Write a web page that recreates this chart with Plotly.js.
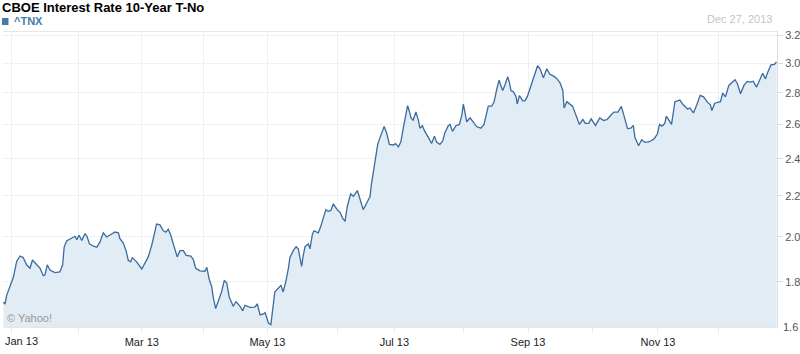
<!DOCTYPE html>
<html>
<head>
<meta charset="utf-8">
<script src="https://cdn.plot.ly/plotly-3.0.1.min.js"></script>
<style>html,body{margin:0;padding:0;background:#fff;}#chart{width:800px;height:354px;}</style>
</head>
<body>
<div id="chart"></div>
<script>
// trading sessions counted from Dec 27, 2012
const session = [0.0,0.5,1.0,2.1,3.2,4.3,5.4,6.4,7.5,8.6,9.4,10.8,11.9,12.9,13.5,14.2,15.1,16.7,18.3,19.2,19.7,20.5,22.1,23.2,23.8,24.5,25.4,26.5,27.2,27.9,29.2,30.3,31.3,32.4,33.5,35.1,36.2,37.3,37.8,38.9,39.8,40.5,41.3,41.8,43.2,44.9,46.0,47.0,48.1,48.9,49.7,50.8,51.9,52.7,53.5,54.3,55.1,56.0,56.4,57.3,58.4,59.3,60.8,61.6,62.4,63.8,65.4,66.0,66.8,67.6,68.1,68.9,69.7,70.8,71.7,72.5,73.3,74.6,75.5,76.8,77.7,78.4,80.0,81.6,82.4,83.3,84.4,84.9,85.5,86.0,86.8,87.4,88.1,89.2,90.1,90.8,91.7,92.5,93.0,94.1,95.0,95.7,96.3,96.8,97.3,97.9,99.0,99.5,100.3,100.8,102.2,103.0,103.8,104.7,105.4,106.3,107.1,108.2,109.3,110.1,110.9,111.6,112.7,113.6,114.9,115.8,116.8,117.9,119.0,119.5,120.1,120.8,121.5,122.3,123.6,124.4,125.3,126.6,127.3,128.2,129.0,129.8,130.7,131.2,131.8,132.3,133.0,133.9,134.7,135.2,136.0,136.8,137.9,139.0,139.9,140.6,141.7,142.6,143.3,144.4,145.0,145.8,146.9,148.0,148.8,149.3,149.8,150.4,151.5,152.5,153.6,155.0,156.0,156.7,157.4,158.5,159.3,160.1,160.9,161.4,162.1,162.8,163.7,164.2,164.8,165.5,166.4,166.8,167.5,168.6,169.3,170.1,170.9,172.0,172.8,173.4,174.2,175.3,176.4,177.4,178.5,179.6,180.7,181.6,182.0,182.9,184.8,185.9,187.0,188.1,188.9,190.0,190.8,192.2,193.6,194.9,196.0,197.1,198.2,199.5,200.6,201.5,202.6,203.7,204.5,205.0,206.2,207.2,208.3,209.7,211.2,212.3,213.0,213.8,214.7,215.2,216.3,216.9,218.0,219.6,220.7,222.1,222.9,224.0,225.1,226.2,227.3,228.4,229.5,230.0,230.9,232.0,232.8,233.5,234.4,235.5,236.6,237.5,238.3,239.3,240.4,241.5,242.6,243.4,244.5,245.6,246.5,247.4,248.1,249.2,250.3,251.0];
const tnx = [1.716,1.709,1.743,1.780,1.819,1.889,1.912,1.905,1.873,1.858,1.894,1.873,1.858,1.826,1.830,1.873,1.850,1.839,1.842,1.873,1.952,1.980,1.995,2.002,1.986,2.007,1.983,2.015,1.999,1.967,1.956,1.952,1.975,2.018,1.999,2.015,2.022,2.018,1.991,1.971,1.936,1.893,1.886,1.905,1.886,1.855,1.880,1.908,1.959,2.007,2.060,2.056,2.028,2.021,2.035,2.007,1.967,1.928,1.908,1.936,1.936,1.915,1.912,1.897,1.858,1.847,1.845,1.862,1.811,1.780,1.736,1.691,1.721,1.758,1.806,1.795,1.736,1.700,1.719,1.700,1.682,1.704,1.696,1.697,1.710,1.666,1.670,1.675,1.654,1.635,1.629,1.693,1.758,1.773,1.785,1.758,1.803,1.858,1.905,1.936,1.954,1.944,1.898,1.866,1.912,1.954,1.967,1.944,2.012,2.028,2.018,2.048,2.089,2.131,2.122,2.127,2.160,2.133,2.116,2.089,2.073,2.146,2.210,2.198,2.228,2.180,2.131,2.163,2.197,2.266,2.327,2.396,2.482,2.524,2.587,2.549,2.482,2.478,2.486,2.467,2.495,2.577,2.667,2.716,2.680,2.640,2.626,2.677,2.626,2.577,2.592,2.558,2.524,2.487,2.530,2.495,2.482,2.501,2.549,2.592,2.600,2.558,2.592,2.600,2.656,2.727,2.677,2.616,2.640,2.612,2.587,2.577,2.600,2.656,2.713,2.713,2.741,2.818,2.884,2.851,2.814,2.851,2.906,2.873,2.812,2.807,2.776,2.727,2.781,2.747,2.747,2.776,2.823,2.884,2.939,2.982,2.961,2.900,2.961,2.923,2.912,2.895,2.866,2.815,2.702,2.742,2.712,2.651,2.600,2.630,2.606,2.606,2.634,2.594,2.640,2.624,2.630,2.655,2.676,2.676,2.712,2.651,2.575,2.578,2.594,2.523,2.474,2.509,2.493,2.497,2.513,2.542,2.600,2.590,2.606,2.651,2.620,2.600,2.742,2.752,2.722,2.696,2.702,2.671,2.722,2.783,2.773,2.742,2.722,2.686,2.732,2.736,2.742,2.797,2.773,2.848,2.870,2.886,2.859,2.793,2.848,2.875,2.870,2.876,2.837,2.892,2.930,2.892,2.936,2.988,2.992,3.008];

// month starts (in sessions) and their labels
const monthTicks = [2.6,24.5,44.9,64.9,85.7,108.3,126.9,149.2,170.3,191.1,212.5,232.3];
const monthLabels = ['Jan 13','','Mar 13','','May 13','','Jul 13','','Sep 13','','Nov 13',''];

const yTicks = [1.6,1.8,2.0,2.2,2.4,2.6,2.8,3.0,3.2];
const yLabels = ['1.6','1.8','2.0','2.2','2.4','2.6','2.8','3.0','3.2'];

const seriesName = '^TNX';
const chartTitle = 'CBOE Interest Rate 10-Year T-No';
const lastDate = 'Dec 27, 2013';

const trace = {
  x: session, y: tnx, type: 'scatter', mode: 'lines', name: seriesName,
  line: {color: '#3a6b9f', width: 1.3},
  fill: 'tozeroy', fillcolor: '#e1ecf5',
  hoverinfo: 'skip'
};

// first label is kept inside the chart (shown as an annotation), the rest are tick labels
const tickText = monthLabels.map((s, i) => i === 0 ? '' : s);

const layout = {
  width: 800, height: 354,
  margin: {l: 3, r: 23, t: 32, b: 27, pad: 0},
  paper_bgcolor: '#ffffff', plot_bgcolor: '#ffffff',
  showlegend: false,
  font: {family: 'Liberation Sans, Arial, sans-serif', size: 11, color: '#333'},
  title: {
    text: '<b>' + chartTitle + '</b>',
    xref: 'container', yref: 'container', x: 0.0025, xanchor: 'left',
    y: 1 - 7.5/354, yanchor: 'middle',
    font: {family: 'Liberation Sans, Arial, sans-serif', size: 13, color: '#000'},
    pad: {t: 0, b: 0, l: 0, r: 0}
  },
  xaxis: {
    range: [-0.16, 251.14],
    tickmode: 'array', tickvals: monthTicks, ticktext: tickText,
    showgrid: true, gridcolor: '#edf0f4', gridwidth: 1,
    ticks: 'outside', ticklen: 5, tickcolor: '#e4e8ee',
    tickfont: {size: 11, color: '#222'},
    zeroline: false, showline: true, mirror: true, linecolor: '#e6e6e6', linewidth: 1,
    fixedrange: true
  },
  yaxis: {
    type: 'log', side: 'right',
    range: [0.20944, 0.50875],
    tickmode: 'array', tickvals: yTicks, ticktext: yLabels,
    showgrid: true, gridcolor: '#edf0f4', gridwidth: 1,
    ticks: 'outside', ticklen: 5, tickcolor: '#dcdcdc',
    tickfont: {size: 11, color: '#555'},
    zeroline: false, showline: true, linecolor: '#dedede', linewidth: 1,
    fixedrange: true
  },
  shapes: [
    {type: 'rect', xref: 'paper', yref: 'paper', x0: -0.0013, x1: 0.0071, y0: 1.0237, y1: 1.0474,
     fillcolor: '#4a78ad', line: {width: 0}}
  ],
  annotations: [
    {text: '<b>' + seriesName + '</b>', xref: 'paper', yref: 'paper', x: 0.0116, y: 1.0356,
     xanchor: 'left', yanchor: 'middle', showarrow: false,
     font: {size: 11, color: '#4a78ad'}},
    {text: lastDate, xref: 'paper', yref: 'paper', x: 0.9961, y: 1.0424,
     xanchor: 'right', yanchor: 'middle', showarrow: false,
     font: {size: 11, color: '#c4c4c4'}},
    {text: '© Yahoo!', xref: 'paper', yref: 'paper', x: 0.0026, y: 0.0305,
     xanchor: 'left', yanchor: 'middle', showarrow: false,
     font: {size: 11, color: '#9a9a9a'}},
    {text: monthLabels[0], xref: 'paper', yref: 'paper', x: 0.0, y: 0, yshift: -14,
     xanchor: 'left', yanchor: 'middle', showarrow: false,
     font: {size: 11, color: '#222'}},
    {text: yLabels[0], xref: 'paper', yref: 'paper', x: 1, y: 0,
     xanchor: 'left', yanchor: 'middle', xshift: 4, showarrow: false,
     font: {size: 11, color: '#555'}}
  ]
};

Plotly.newPlot('chart', [trace], layout, {staticPlot: true, displayModeBar: false});
</script>
</body>
</html>
